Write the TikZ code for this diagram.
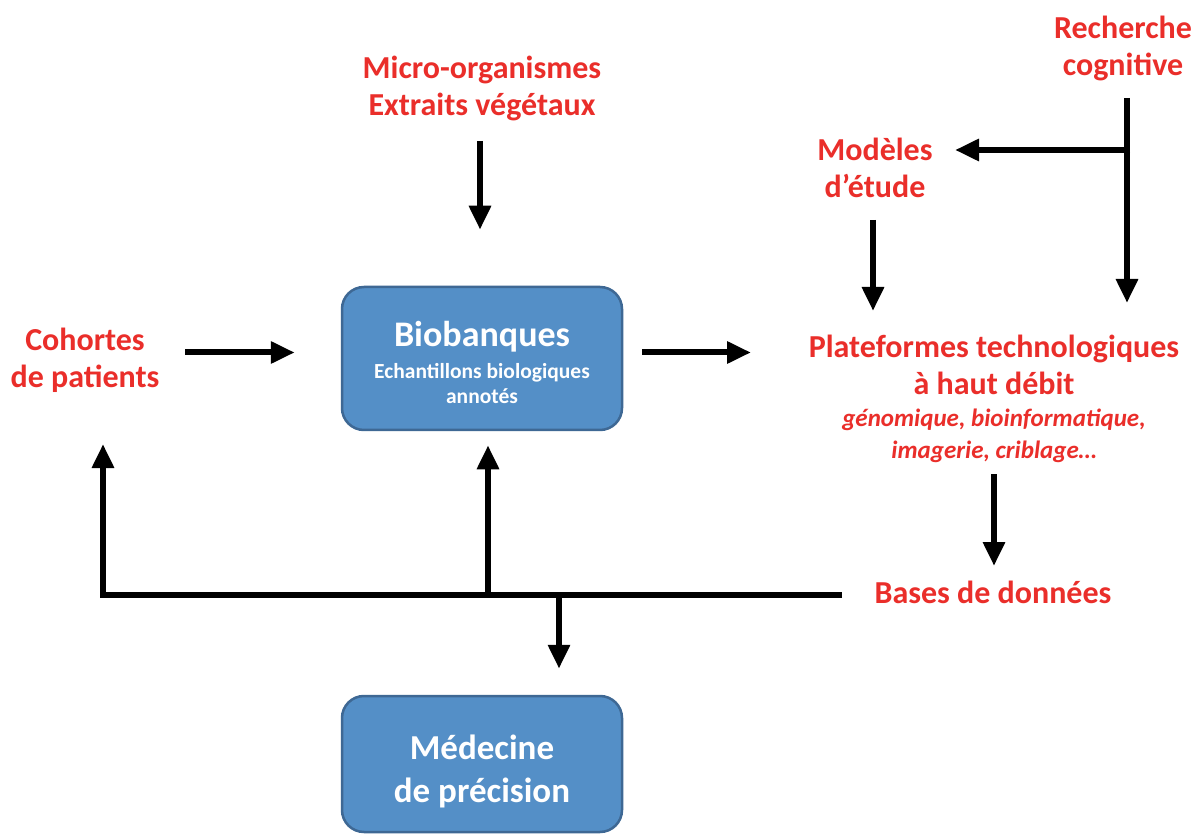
\documentclass[tikz,border=0pt]{standalone}
\usepackage{fontspec}
\setmainfont{Carlito}
\usetikzlibrary{arrows.meta,calc}
\definecolor{labred}{RGB}{234,46,42}
\definecolor{boxblue}{RGB}{84,143,199}
\definecolor{boxedge}{RGB}{62,104,148}

\begin{document}
\begin{tikzpicture}[x=1pt,y=-1pt,
	redlbl/.style={text=labred, font=\bfseries\fontsize{32}{37}\selectfont, align=center, inner sep=0pt},
	bluebox/.style={draw=boxedge, fill=boxblue, line width=2.5pt, rounded corners=22pt, minimum width=280pt},
	boxtxt/.style={text=white, align=center, inner sep=0pt, font=\bfseries},
	arr/.style={line width=6pt, -{Triangle[width=21pt,length=24pt]}}]
	\useasboundingbox[fill=white] (0,0) rectangle (1195,834);
	
	% boxes
	\node[bluebox, minimum height=143pt] (bio) at (482,358.5) {};
	\node[boxtxt, font=\bfseries\fontsize{21.5}{25}\selectfont] (biotxt) at (482,362) {{\fontsize{36}{40}\selectfont Biobanques}\\[7pt]Echantillons biologiques\\annotés};
	\node[bluebox, minimum height=136pt] (med) at (482,764) {};
	\node[boxtxt, font=\bfseries\fontsize{35}{43}\selectfont] (medtxt) at (482,771) {Médecine\\de précision};
	
	% red labels
	\node[redlbl] (micro) at (482,88) {Micro-organismes\\Extraits végétaux};
	\node[redlbl] (rech) at (1123,48) {Recherche\\cognitive};
	\node[redlbl] (modeles) at (875,168) {Modèles\\d’étude};
	\node[redlbl] (cohortes) at (85,360) {Cohortes\\de patients};
	\node[redlbl] (plat) at (994,399) {Plateformes technologiques\\à haut débit\\[-5pt]{\itshape\fontsize{25}{32}\selectfont génomique, bioinformatique,}\\[-5pt]{\itshape\fontsize{25}{32}\selectfont imagerie, criblage…}};
	\node[redlbl] (bases) at (993,592) {Bases de données};
	
	% junctions
	\coordinate (jr) at (1127,150);
	\coordinate (jl) at (103,595);
	\coordinate (jm) at (488,595);
	\coordinate (jd) at (559,595);
	
	% arrows
	\draw[arr, shorten <=53pt, shorten >=56pt] ([xshift=-2pt]micro.center) -- ([xshift=-2pt]micro.center |- bio.north);
	\draw[arr, shorten <=100pt, shorten >=46pt] ([yshift=6pt]cohortes.center |- bio.west) -- ([yshift=6pt]bio.west);
	\draw[arr, shorten <=19pt, shorten >=243pt] ([yshift=6pt]bio.east) -- ([yshift=6pt]bio.east -| plat.center);
	\draw[arr, shorten <=50pt, shorten >=96pt] (rech.center -| jr) -- (jr |- plat.center);
	\draw[arr, shorten >=80pt] ([xshift=3pt]jr) -- (jr -| modeles.center);
	\draw[arr, shorten <=52pt, shorten >=88pt] ([xshift=-2pt]modeles.center) -- ([xshift=-2pt]modeles.center |- plat.center);
	\draw[arr, shorten <=75pt, shorten >=26pt] (plat.center) -- (plat.center |- bases.center);
	\draw[arr, shorten <=151pt, shorten >=84pt] (bases.center |- jl) -- (jl) -- (jl |- cohortes.center);
	\draw[arr, shorten >=14pt] (jm) -- (jm |- bio.south);
	\draw[arr, shorten >=26pt] (jd) -- (jd |- med.north);
\end{tikzpicture}
\end{document}
